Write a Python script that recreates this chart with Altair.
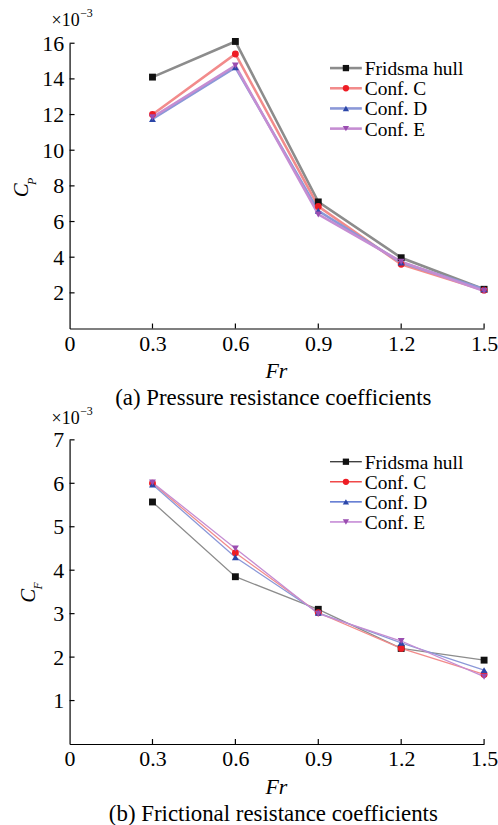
import altair as alt
import pandas as pd

# ---------------- data ----------------
fr = [0.3, 0.6, 0.9, 1.2, 1.5]
series = ["Fridsma hull", "Conf. C", "Conf. D", "Conf. E"]

cp_fridsma = [14.1, 16.1, 7.1, 3.97, 2.2]
cp_conf_c = [12.0, 15.4, 6.85, 3.6, 2.15]
cp_conf_d = [11.75, 14.65, 6.6, 3.7, 2.2]
cp_conf_e = [11.85, 14.75, 6.4, 3.75, 2.1]

cf_fridsma = [5.57, 3.85, 3.1, 2.2, 1.93]
cf_conf_c = [6.0, 4.4, 3.02, 2.2, 1.6]
cf_conf_d = [5.97, 4.3, 3.02, 2.33, 1.7]
cf_conf_e = [6.02, 4.5, 3.0, 2.37, 1.55]

x_ticks = [0, 0.3, 0.6, 0.9, 1.2, 1.5]
cp_ticks = [2, 4, 6, 8, 10, 12, 14, 16]
cf_ticks = [1, 2, 3, 4, 5, 6, 7]

# ---------------- styles ----------------
FONT = "Liberation Serif"
W = 417
marker_colors = ["#111111", "#ee1c24", "#2b46a8", "#9a4db0"]
top_line_colors = ["#8c8c8c", "#f28b8b", "#8b98d8", "#c58dd2"]
bot_line_colors = ["#333333", "#ee2a2a", "#3d5cc8", "#b86fcc"]
shapes = ["square", "circle", "triangle-up", "triangle-down"]


def long_df(values):
    rows = []
    for name, vals in zip(series, values):
        for f, v in zip(fr, vals):
            rows.append({"fr": f, "value": v, "series": name})
    return pd.DataFrame(rows)


def txt(text, x, y, size, style="normal", angle=0, align="center", baseline="middle"):
    return alt.Chart(pd.DataFrame({"t": [text]})).mark_text(
        font=FONT, fontSize=size, fontStyle=style, angle=angle, align=align,
        baseline=baseline, color="black"
    ).encode(x=alt.value(x), y=alt.value(y), text="t:N")


def panel(values, ymax, yticks, H, line_colors, line_width, sub, caption,
          c_pos, sub_pos, leg_y0, leg_dy, exp_y):
    df = long_df(values)
    xs = alt.Scale(domain=[0, 1.5], nice=False, zero=False)
    ys = alt.Scale(domain=[0, ymax], nice=False)
    xaxis = alt.Axis(values=x_ticks, labelExpr="datum.value == 0 ? '0' : format(datum.value, '.1f')",
                     tickSize=0, grid=False, title=None, labelFont=FONT, labelFontSize=22,
                     labelColor="black", domainColor="black", domainWidth=1.2,
                     labelPadding=5, labelFlush=False, labelOverlap=False)
    yaxis = alt.Axis(values=yticks, tickSize=0, grid=False, title=None, labelFont=FONT,
                     labelFontSize=22, labelColor="black", domainColor="black",
                     domainWidth=1.2, labelPadding=6, labelFlush=False, labelOverlap=False)

    base = alt.Chart(df)
    lines = base.mark_line(strokeWidth=line_width).encode(
        x=alt.X("fr:Q", scale=xs, axis=xaxis),
        y=alt.Y("value:Q", scale=ys, axis=yaxis),
        color=alt.Color("series:N", scale=alt.Scale(domain=series, range=line_colors), legend=None),
    )
    points = base.mark_point(filled=True, size=48, opacity=1).encode(
        x=alt.X("fr:Q", scale=xs),
        y=alt.Y("value:Q", scale=ys),
        fill=alt.Fill("series:N", scale=alt.Scale(domain=series, range=marker_colors), legend=None),
        shape=alt.Shape("series:N", scale=alt.Scale(domain=series, range=shapes), legend=None),
    )
    xt = alt.Chart(pd.DataFrame({"v": x_ticks[1:]})).mark_rule(color="black", strokeWidth=1.2).encode(
        x=alt.X("v:Q", scale=xs), y=alt.value(H), y2=alt.value(H - 5))
    yt = alt.Chart(pd.DataFrame({"v": yticks})).mark_rule(color="black", strokeWidth=1.2).encode(
        y=alt.Y("v:Q", scale=ys), x=alt.value(0), x2=alt.value(5))

    layers = [lines, points, xt, yt]
    # legend
    for i, name in enumerate(series):
        yy = leg_y0 + i * leg_dy
        d = pd.DataFrame({"t": [name]})
        layers.append(alt.Chart(d).mark_rule(color=line_colors[i], strokeWidth=line_width).encode(
            x=alt.value(262), x2=alt.value(294), y=alt.value(yy)))
        layers.append(alt.Chart(d).mark_point(filled=True, size=40, opacity=1, shape=shapes[i],
                                              color=marker_colors[i]).encode(
            x=alt.value(278), y=alt.value(yy)))
        layers.append(alt.Chart(d).mark_text(font=FONT, fontSize=19.5, align="left", baseline="middle",
                                             color="black").encode(
            x=alt.value(297), y=alt.value(yy + 1), text="t:N"))

    layers += [
        txt("×10", -4, exp_y, 18),
        txt("−3", 17, exp_y - 8, 12),
        txt("C", c_pos[0], c_pos[1], 21, "italic", 270),
        txt(sub, sub_pos[0], sub_pos[1], 12, "italic", 270),
        txt("Fr", 208, H + 43, 22, "italic"),
        txt(caption, 205, H + 70, 23),
    ]
    return alt.layer(*layers).properties(width=W, height=H)


top = panel([cp_fridsma, cp_conf_c, cp_conf_d, cp_conf_e], 16, cp_ticks, 287,
            top_line_colors, 2.6, "P", "(a) Pressure resistance coefficients",
            (-48, 148), (-38, 139), 25, 20.3, -22)
bottom = panel([cf_fridsma, cf_conf_c, cf_conf_d, cf_conf_e], 7, cf_ticks, 306,
               bot_line_colors, 1.3, "F", "(b) Frictional resistance coefficients",
               (-41, 157), (-32, 147), 22, 20.2, -21)

chart = alt.vconcat(top, bottom, spacing=112, bounds="flush").properties(
    padding={"left": 11, "top": 5, "right": 0, "bottom": 0},
    background="white",
).configure_view(stroke=None)

chart.save("out.html", embed_options={"renderer": "svg", "actions": False})
